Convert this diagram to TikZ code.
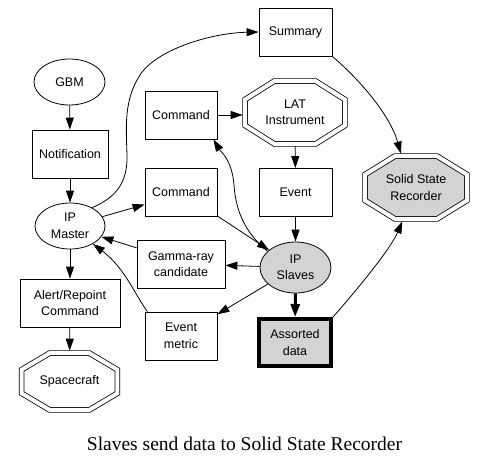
\documentclass[tikz,border=0pt]{standalone}
\usepackage{fontspec}
\setmainfont{Liberation Sans}
\newfontfamily\captionfont{Liberation Serif}
\usetikzlibrary{shapes.geometric,arrows.meta,calc,backgrounds}
\definecolor{ltgray}{HTML}{D3D3D3}

\begin{document}
\begin{tikzpicture}[x=1pt,y=-1pt,>={Triangle[length=12pt,width=8pt]}]
	\tikzstyle{every node}=[font=\fontsize{12.5}{16.5}\selectfont,align=center,line width=0.8pt,inner sep=0pt]
	\tikzstyle{box}=[draw,rectangle,minimum width=72pt,minimum height=48pt]
	\tikzstyle{oval}=[draw,ellipse,minimum width=70pt,minimum height=46pt]
	\tikzstyle{octo}=[rectangle]
	\tikzstyle{link}=[->,line width=0.8pt]
	\useasboundingbox (0,0) rectangle (487,467);
	\node[oval,minimum width=71pt] (gbm) at (69.5,82) {GBM};
	\node[box,minimum width=76pt] (notif) at (70,154) {Notification};
	\node[oval] (master) at (70,226) {IP\\Master};
	\node[box,minimum width=100pt] (alert) at (70,303) {Alert/Repoint\\Command};
	\node[octo,minimum width=100pt,minimum height=61pt] (craft) at (69.5,381.5) {Spacecraft};
	\node[box] (cmda) at (181,115) {Command};
	\node[box] (cmdb) at (181,192) {Command};
	\node[box,minimum width=88pt] (gamma) at (181,264) {Gamma-ray\\candidate};
	\node[box] (emetric) at (181,336) {Event\\metric};
	\node[box,minimum width=73pt] (summary) at (295.5,32) {Summary};
	\node[octo,minimum width=104pt,minimum height=67pt] (lat) at (295,112.5) {LAT\\Instrument};
	\node[box,minimum width=73pt] (event) at (295.5,192.5) {Event};
	\node[oval,fill=ltgray,minimum width=71pt,minimum height=51pt] (slaves) at (295.5,267.5) {IP\\Slaves};
	\node[box,fill=ltgray,line width=4pt,minimum width=72pt,minimum height=47pt] (assorted) at (295,342.5) {Assorted\\data};
	\node[octo,minimum width=106pt,minimum height=67pt] (ssr) at (416,187.5) {Solid State\\Recorder};
	\node[font=\captionfont\fontsize{19.5}{22}\selectfont,anchor=base] (caption) at (244.5,450) {Slaves send data to Solid State Recorder};
	\begin{scope}[on background layer]
		\foreach \n/\f in {craft/white,lat/white,ssr/ltgray}{
			\coordinate (nw) at ($(\n.north west)+(2.5,2.5)$);
			\coordinate (se) at ($(\n.south east)+(-2.5,-2.5)$);
			\coordinate (ne) at (nw -| se);
			\coordinate (sw) at (nw |- se);
			\draw[double,double distance=4pt,line width=0.8pt,fill=\f]
				($(nw)!.293!(ne)$) -- ($(ne)!.293!(nw)$) -- ($(ne)!.293!(se)$) -- ($(se)!.293!(ne)$)
				-- ($(se)!.293!(sw)$) -- ($(sw)!.293!(se)$) -- ($(sw)!.293!(nw)$) -- ($(nw)!.293!(sw)$) -- cycle;
		}
	\end{scope}
	\draw[link] (gbm) -- (notif);
	\draw[link] (notif) -- (master);
	\draw[link] (master) -- (alert);
	\draw[link] (alert) -- (craft);
	\draw[link] (master) -- (cmdb.199);
	\draw[link] (master.40) .. controls (113,199) and (128,185) .. (127,155)
		.. controls (126,125) and (124,100) .. (140,75)
		.. controls (156,50) and (210,33) .. (summary.west);
	\draw[link] (cmda) -- (cmda -| lat.west);
	\draw[link] (lat) -- (event);
	\draw[link] (event) -- (slaves);
	\draw[link] (slaves.150) .. controls (248,235) and (236,215) .. (234,185)
		.. controls (232,160) and (221,152) .. (cmda.-37);
	\draw[link] (cmdb) -- (slaves);
	\draw[link] (slaves) -- (gamma);
	\draw[link] (gamma.160) -- (master.-19);
	\draw[link] (slaves) -- (emetric);
	\draw[link] (emetric.144) .. controls (135,295) and (125,268) .. (master.-38);
	\draw[link,line width=3pt,-{Triangle[length=13pt,width=9pt]}] (slaves) -- (assorted);
	\draw[link] (assorted.north east) .. controls (355,292) and (390,250) .. (ssr.-112);
	\draw[link] (summary.south east) .. controls (360,80) and (390,115) .. (ssr.114);
\end{tikzpicture}
\end{document}
